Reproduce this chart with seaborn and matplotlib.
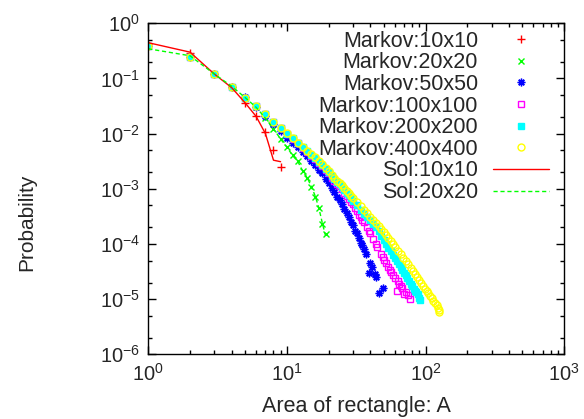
import numpy as np
import seaborn as sns
import matplotlib
matplotlib.use("Agg")
import matplotlib.pyplot as plt
from matplotlib.ticker import LogLocator, NullFormatter


# ======================================
# DATA
# ======================================

area_10 = [1, 2, 3, 4, 5, 6, 7, 8, 9]
markov_10 = [0.43, 0.285, 0.12, 0.070, 0.0355, 0.0205, 0.0108, 0.0050, 0.0025]

area_20 = list(range(1, 20))
markov_20 = [0.38, 0.25, 0.12, 0.071, 0.045, 0.030, 0.019, 0.0120, 0.0081,
             0.0058, 0.0041, 0.0032, 0.0021, 0.0016, 0.0011, 0.00072,
             0.00045, 0.00023, 0.00015]

area_50 = list(range(1, 37)) + [37, 39, 40, 41, 43, 44, 46, 49]
markov_50 = [0.38, 0.25, 0.12, 0.071, 0.046, 0.031, 0.021,
             0.0150, 0.0112, 0.0085, 0.0068, 0.0058, 0.0047, 0.0039, 0.0032,
             0.0027, 0.0022, 0.0019, 0.0015, 0.0013, 0.00105, 0.00088,
             0.00072, 0.00062, 0.00052, 0.00043, 0.00036, 0.00031, 0.00025,
             0.00022, 0.00017, 0.000155, 0.00013, 0.000105, 0.000095,
             0.000080,
             0.000065, 0.000030, 0.000046, 0.000039, 0.000029, 0.000025,
             0.000013, 0.000016]

area_100 = list(range(1, 37)) + [38, 39, 40, 42, 44, 45, 48, 49, 50, 52, 54,
                                 55, 56, 58, 60, 62, 63, 64, 66, 68, 70, 72,
                                 75, 77]
markov_100 = [0.38, 0.245, 0.12, 0.071, 0.045, 0.032, 0.0228, 0.0165, 0.0128,
              0.0100, 0.0080, 0.0067, 0.0056, 0.0047, 0.0040, 0.0035, 0.0029,
              0.0026, 0.0022, 0.0019, 0.0016, 0.0014, 0.0012, 0.00112,
              0.00098, 0.00085, 0.00074, 0.00066, 0.00058, 0.00052, 0.00045,
              0.00040, 0.00034, 0.00031, 0.00027, 0.00025,
              0.00020, 0.00017, 0.000155, 0.000125, 0.000100, 0.000088,
              0.000066, 0.000058, 0.000052, 0.000045, 0.000039, 0.000034,
              0.000031, 0.000027, 0.000024, 0.000014, 0.000021, 0.000019,
              0.000017, 0.0000158, 0.0000125, 0.0000135, 0.0000118,
              0.0000102]

area_200 = list(range(1, 31)) + list(range(32, 91, 2)) + [91]
markov_200 = [0.38, 0.245, 0.12, 0.071, 0.045, 0.032, 0.0228, 0.0165, 0.0128,
              0.0100, 0.0082, 0.0068, 0.0057, 0.0048, 0.0041, 0.0036, 0.0031,
              0.0027, 0.0023, 0.0020, 0.0017, 0.0015, 0.00135, 0.00122,
              0.00108, 0.00096, 0.00085, 0.00076, 0.00068, 0.00061,
              0.00050, 0.00042, 0.00035, 0.00031, 0.00027, 0.00023, 0.00020,
              0.000172, 0.000142, 0.000118, 0.000100, 0.000086, 0.000074,
              0.000064, 0.000056, 0.000049, 0.000044, 0.000038, 0.000034,
              0.000030, 0.000027, 0.000024, 0.000021, 0.000019, 0.000017,
              0.0000155, 0.000014, 0.0000132, 0.0000124, 0.0000104,
              0.0000098]

area_400 = (list(range(1, 31)) + list(range(32, 61, 2))
            + list(range(63, 121, 3)) + [122, 124, 126])
markov_400 = [0.38, 0.245, 0.12, 0.071, 0.045, 0.032, 0.0228, 0.0165, 0.0128,
              0.0101, 0.0083, 0.0069, 0.0058, 0.0049, 0.0042, 0.0037, 0.0032,
              0.0028, 0.0024, 0.0021, 0.0018, 0.0016, 0.0014, 0.0013,
              0.00115, 0.00102, 0.00092, 0.00083, 0.00075, 0.00068,
              0.00057, 0.00048, 0.00041, 0.00036, 0.00031, 0.00027, 0.00024,
              0.00021, 0.000185, 0.000165, 0.000145, 0.000128, 0.000113,
              0.000100, 0.000089,
              0.000076, 0.000065, 0.000056, 0.000049, 0.000043, 0.000037,
              0.000032, 0.000028, 0.000025, 0.000022, 0.0000195, 0.0000172,
              0.0000155, 0.000014, 0.0000127, 0.0000116, 0.0000104,
              0.0000094, 0.0000085, 0.0000077,
              0.0000069, 0.0000064, 0.0000058]

sol_area_10 = [1, 2, 3, 4, 5, 6, 7, 8, 9]
sol_10 = [0.445, 0.30, 0.12, 0.068, 0.036, 0.0205, 0.0100, 0.0033, 0.0031]

sol_area_20 = list(range(1, 20))
sol_20 = [0.345, 0.258, 0.12, 0.072, 0.045, 0.030, 0.019, 0.0122, 0.0080,
          0.0057, 0.0040, 0.0031, 0.0021, 0.0016, 0.0011, 0.00074, 0.00045,
          0.00024, 0.00014]


# ======================================
# STYLE
# ======================================

sns.set_style("ticks")
plt.rcParams["font.family"] = ["Liberation Sans", "DejaVu Sans"]
plt.rcParams["axes.unicode_minus"] = False

fig = plt.figure(figsize=(5.84, 4.19), dpi=100)
ax = fig.add_axes([0.2539, 0.1544, 0.7122, 0.7900])
ax.set_xscale("log")
ax.set_yscale("log")


# ======================================
# MARKOV POINTS
# ======================================

points = [
    (area_10, markov_10, "Markov:10x10", "#ff0000", "+", 5.5, 1.0, "#ff0000"),
    (area_20, markov_20, "Markov:20x20", "#00ff00", "x", 4.5, 1.0, "#00ff00"),
    (area_50, markov_50, "Markov:50x50", "#0000ff", (8, 2, 0), 5.5, 1.0, "#0000ff"),
    (area_100, markov_100, "Markov:100x100", "#ff00ff", "s", 4.5, 1.0, "none"),
    (area_200, markov_200, "Markov:200x200", "#00ffff", "s", 4.5, 1.0, "#00ffff"),
    (area_400, markov_400, "Markov:400x400", "#ffff00", "o", 5.0, 1.0, "none"),
]

for xs, ys, name, col, mk, ms, mew, mfc in points:
    sns.lineplot(
        x=xs, y=ys, ax=ax,
        estimator=None, errorbar=None, sort=False,
        color=col, linestyle="",
        marker=mk, markersize=ms,
        markeredgecolor=col, markeredgewidth=mew,
        markerfacecolor=mfc,
        label=name
    )


# ======================================
# SOLUTION LINES
# ======================================

sns.lineplot(
    x=sol_area_10, y=sol_10, ax=ax,
    estimator=None, errorbar=None, sort=False,
    color="#ff0000", linewidth=1.0, label="Sol:10x10"
)

sns.lineplot(
    x=sol_area_20, y=sol_20, ax=ax,
    estimator=None, errorbar=None, sort=False,
    color="#00ff00", linewidth=1.0, linestyle=(0, (3, 2)),
    label="Sol:20x20"
)


# ======================================
# AXES
# ======================================

ax.set_xlim(1, 1000)
ax.set_ylim(1e-6, 1)

ax.xaxis.set_major_locator(LogLocator(base=10, numticks=10))
ax.xaxis.set_minor_locator(LogLocator(base=10, subs=np.arange(2, 10), numticks=20))
ax.yaxis.set_major_locator(LogLocator(base=10, numticks=10))
ax.yaxis.set_minor_locator(LogLocator(base=10, subs=(2.0, 5.0), numticks=20))
ax.xaxis.set_minor_formatter(NullFormatter())
ax.yaxis.set_minor_formatter(NullFormatter())

ax.tick_params(which="both", direction="in", top=True, right=True,
               width=1.0, color="black", labelsize=14.5)
ax.tick_params(which="major", length=6, pad=6)
ax.tick_params(which="minor", length=3)

for s in ax.spines.values():
    s.set_linewidth(1.0)
    s.set_color("black")

ax.set_xlabel("Area of rectangle: A", fontsize=15.5)
ax.set_ylabel("Probability", fontsize=15)
ax.xaxis.set_label_coords(0.5, -0.125)
ax.yaxis.set_label_coords(-0.27, 0.40)


# ======================================
# LEGEND (text right-justified, sample on the right)
# ======================================

ax.legend(
    loc="upper right", bbox_to_anchor=(0.9635, 0.978),
    frameon=False, markerfirst=False,
    handlelength=2.6, handletextpad=0.7,
    labelspacing=0.03, borderaxespad=0, borderpad=0,
    fontsize=15.5
)

fig.savefig("out.png", dpi=100)
